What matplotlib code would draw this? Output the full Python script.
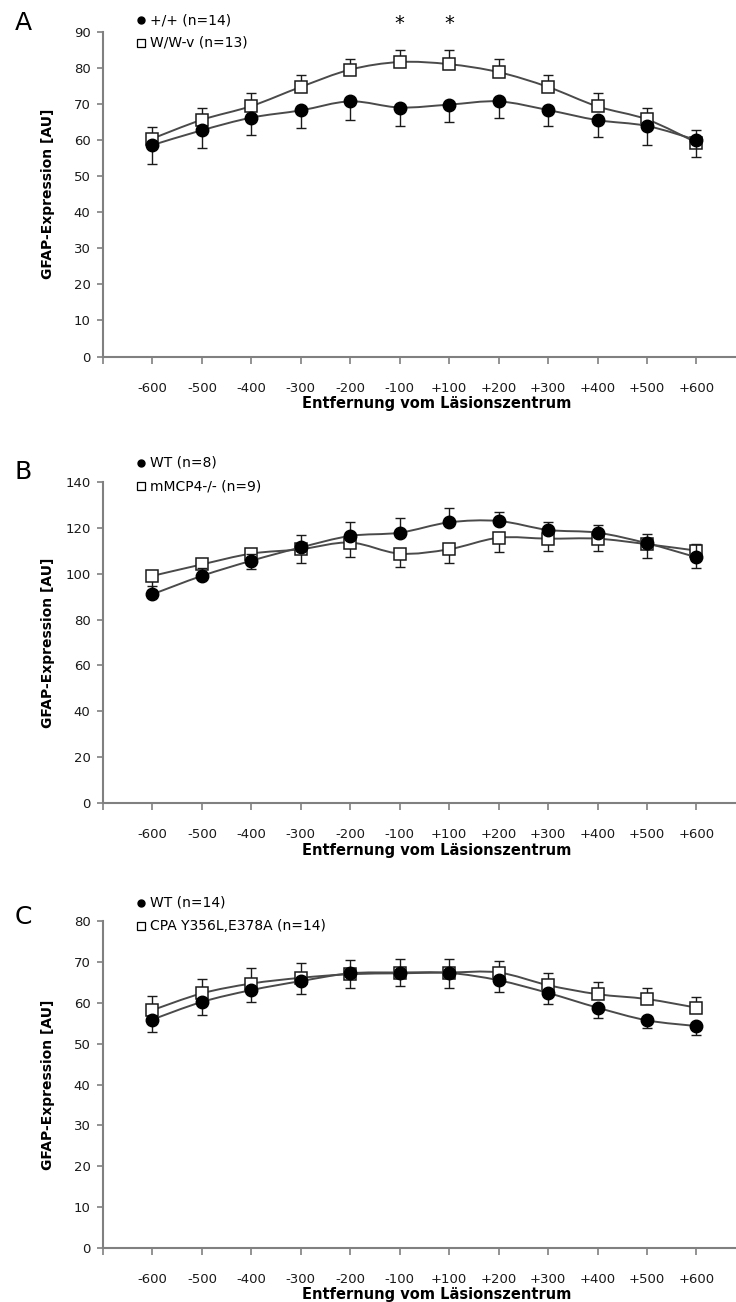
import numpy as np
import matplotlib.pyplot as plt
from matplotlib.path import Path
from matplotlib.patches import PathPatch
from matplotlib.lines import Line2D

plt.rcParams['font.family'] = ['DejaVu Sans']

# Data
positions = ['-600', '-500', '-400', '-300', '-200', '-100',
             '+100', '+200', '+300', '+400', '+500', '+600']

# panel A
a_wt_label = '+/+ (n=14)'
a_wt = [58.6, 62.7, 66.2, 68.2, 70.7, 69.0, 69.8, 70.7, 68.3, 65.5, 63.9, 60.0]
a_wt_err = [5.2, 4.8, 4.8, 4.9, 5.1, 5.1, 4.8, 4.6, 4.4, 4.6, 5.2, 4.8]
a_mut_label = 'W/W-v (n=13)'
a_mut = [60.4, 65.6, 69.4, 74.7, 79.5, 81.6, 81.0, 78.8, 74.7, 69.3, 65.7, 59.3]
a_mut_err = [3.2, 3.4, 3.7, 3.2, 2.9, 3.3, 3.9, 3.6, 3.4, 3.6, 3.2, 3.4]
a_signif = ['-100', '+100']

# panel B
b_wt_label = 'WT (n=8)'
b_wt = [91.0, 99.0, 105.6, 111.4, 116.4, 117.8, 122.3, 122.9, 119.0, 117.8, 113.2, 107.1]
b_wt_err = [3.5, 3.5, 3.0, 5.4, 5.9, 6.3, 6.1, 3.8, 3.3, 3.4, 4.0, 5.7]
b_mut_label = 'mMCP4-/- (n=9)'
b_mut = [99.0, 104.0, 108.7, 110.6, 113.5, 108.7, 110.6, 115.6, 115.2, 115.2, 112.8, 110.0]
b_mut_err = [6.0, 6.0, 6.8, 6.1, 6.4, 6.0, 6.1, 6.3, 5.4, 5.4, 6.1, 7.5]

# panel C
c_wt_label = 'WT (n=14)'
c_wt = [55.9, 60.2, 63.1, 65.3, 67.2, 67.4, 67.3, 65.5, 62.4, 58.8, 55.7, 54.3]
c_wt_err = [3.0, 3.2, 3.0, 3.2, 3.7, 3.3, 3.6, 2.8, 2.7, 2.5, 1.8, 2.3]
c_mut_label = 'CPA Y356L,E378A (n=14)'
c_mut = [58.2, 62.3, 64.7, 66.1, 67.0, 67.2, 67.4, 67.4, 64.3, 62.1, 60.9, 58.8]
c_mut_err = [3.5, 3.6, 3.8, 3.7, 3.4, 3.5, 3.3, 2.8, 2.9, 2.9, 2.8, 2.6]

W, H = 736, 1302
fig = plt.figure(figsize=(W / 100, H / 100), dpi=100)

AXC = '#808080'
LINEC = '#4a4a4a'
EC = '#1a1a1a'


def fx(x):
    return x / W


def fy(y):
    return 1 - y / H


def smooth_path(xs, ys):
    # excel-like smoothed line (catmull-rom as bezier)
    pts = np.column_stack([xs, ys]).astype(float)
    n = len(pts)
    verts = [pts[0]]
    codes = [Path.MOVETO]
    for i in range(n - 1):
        p0 = pts[max(i - 1, 0)]
        p1 = pts[i]
        p2 = pts[i + 1]
        p3 = pts[min(i + 2, n - 1)]
        verts += [p1 + (p2 - p0) / 6, p2 - (p3 - p1) / 6, p2]
        codes += [Path.CURVE4] * 3
    return Path(verts, codes)


def panel(top, bottom, ymax, ystep, letter, letter_y, leg_y,
          wt, wt_err, wt_lab, mut, mut_err, mut_lab, wt_up):
    ax = fig.add_axes([fx(103), fy(bottom), fx(W - 103), (bottom - top) / H])
    x = np.arange(1, len(positions) + 1)

    # mutant / knockout series (open squares) drawn first
    ax.add_patch(PathPatch(smooth_path(x, mut), fill=False, edgecolor=LINEC,
                           lw=1.4, zorder=2))
    zeros = np.zeros(len(x))
    if wt_up:
        mut_yerr = [mut_err, zeros]
        wt_yerr = [zeros, wt_err]
    else:
        mut_yerr = [zeros, mut_err]
        wt_yerr = [wt_err, zeros]
    ax.errorbar(x, mut, yerr=mut_yerr, fmt='none', ecolor=EC, elinewidth=1,
                capsize=3.5, capthick=1, zorder=1)
    ax.plot(x, mut, ls='none', marker='s', ms=8.5, mfc='white', mec=EC,
            mew=1.1, zorder=3)

    # wild type series (filled circles)
    ax.add_patch(PathPatch(smooth_path(x, wt), fill=False, edgecolor=LINEC,
                           lw=1.4, zorder=4))
    ax.errorbar(x, wt, yerr=wt_yerr, fmt='none', ecolor=EC, elinewidth=1,
                capsize=3.5, capthick=1, zorder=4)
    ax.plot(x, wt, ls='none', marker='o', ms=9, mfc='black', mec='black',
            zorder=5)

    ax.set_xlim(0, (W - 103) / 49.45)
    ax.set_ylim(0, ymax)
    ax.set_xticks(np.arange(0, len(positions) + 1))
    ax.set_xticklabels([''] + positions)
    ax.set_yticks(np.arange(0, ymax + 1, ystep))
    for s in ['top', 'right']:
        ax.spines[s].set_visible(False)
    for s in ['left', 'bottom']:
        ax.spines[s].set_color(AXC)
        ax.spines[s].set_linewidth(1.5)
    ax.tick_params(axis='x', direction='out', length=5, width=1.2,
                   color=AXC, pad=13, labelsize=9.5, labelcolor='#1a1a1a')
    ax.tick_params(axis='y', direction='out', length=4, width=1.2,
                   color=AXC, pad=5, labelsize=9.5, labelcolor='#1a1a1a')

    fig.text(fx(48), fy((top + bottom) / 2), 'GFAP-Expression [AU]',
             rotation=90, ha='center', va='center', fontsize=10,
             fontweight='bold')
    fig.text(fx(437), fy(bottom + 47), 'Entfernung vom Läsionszentrum',
             ha='center', va='center', fontsize=10.5, fontweight='bold')
    fig.text(fx(23), fy(letter_y), letter, ha='center', va='center',
             fontsize=18)

    # legend
    fig.add_artist(Line2D([fx(141)], [fy(leg_y)], marker='o', ms=5,
                          mfc='black', mec='black', ls='none'))
    fig.text(fx(150), fy(leg_y), wt_lab, ha='left', va='center', fontsize=10)
    fig.add_artist(Line2D([fx(141)], [fy(leg_y + 23)], marker='s', ms=6,
                          mfc='white', mec='black', mew=0.9, ls='none'))
    fig.text(fx(150), fy(leg_y + 23), mut_lab, ha='left', va='center',
             fontsize=10)
    return ax


axA = panel(31.7, 356.6, 90, 10, 'A', 23, 20,
            a_wt, a_wt_err, a_wt_label, a_mut, a_mut_err, a_mut_label, False)
for p in a_signif:
    axA.text(positions.index(p) + 1, 92.2, '*', ha='center', va='center',
             fontsize=14, clip_on=False)

panel(481.7, 803.3, 140, 20, 'B', 472, 463,
      b_wt, b_wt_err, b_wt_label, b_mut, b_mut_err, b_mut_label, True)
panel(921, 1248, 80, 10, 'C', 917, 903,
      c_wt, c_wt_err, c_wt_label, c_mut, c_mut_err, c_mut_label, False)

fig.savefig('out.png', dpi=100)
